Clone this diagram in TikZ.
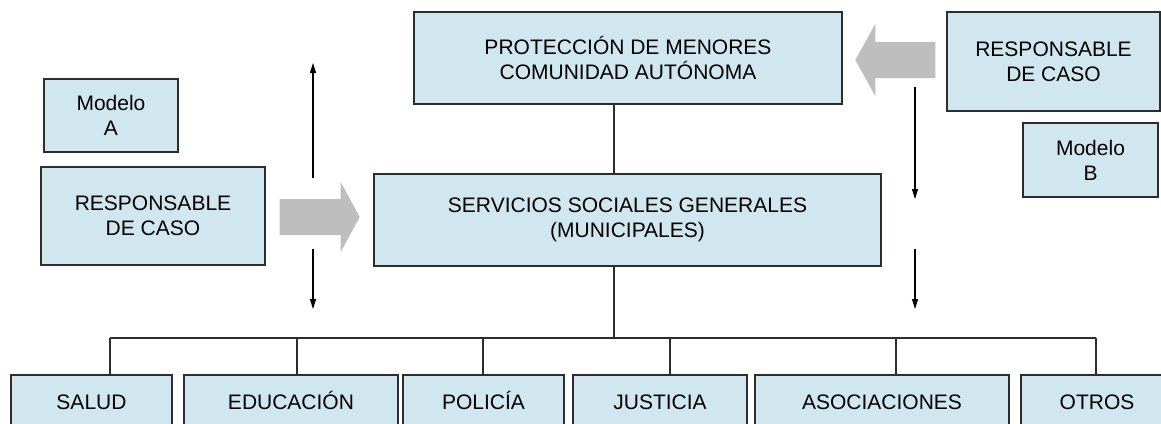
\documentclass[tikz,border=0pt]{standalone}
\usepackage{fontspec}
\setmainfont{Liberation Sans}
\usetikzlibrary{arrows.meta,calc}
\definecolor{boxfill}{RGB}{209,231,239}
\definecolor{boxline}{RGB}{45,45,45}
\definecolor{fatgray}{RGB}{190,190,190}
\begin{document}
\begin{tikzpicture}[x=0.5pt,y=-0.5pt,
  box/.style={draw=boxline, line width=0.7pt, fill=boxfill, align=center, inner sep=0pt,
    font=\fontsize{10.5}{12.5}\selectfont, text=black},
  lowbox/.style={box, minimum height=27pt, text height=7.5pt, text depth=0pt},
  conn/.style={draw=boxline, line width=0.55pt},
  thinarrow/.style={draw=black, line width=0.55pt, -{Triangle[length=5pt,width=3pt]}},
  fat/.style={fill=fatgray}]
\useasboundingbox (0,0) rectangle (1161,423);

% top / middle boxes
\node[box, minimum width=67pt, minimum height=36.5pt] (modA) at (111,115.5) {Modelo\\A};
\node[box, minimum width=112pt, minimum height=49pt] (respA) at (153,216) {RESPONSABLE\\DE CASO};
\node[box, minimum width=214pt, minimum height=46pt] (prot) at (628,58) {PROTECCIÓN DE MENORES\\COMUNIDAD AUTÓNOMA};
\node[box, minimum width=253.5pt, minimum height=46pt] (ssg) at (627.5,220) {SERVICIOS SOCIALES GENERALES\\(MUNICIPALES)};
\node[box, minimum width=106.5pt, minimum height=49.5pt] (respB) at (1053.5,61.5) {RESPONSABLE\\DE CASO};
\node[box, minimum width=67.5pt, minimum height=37pt] (modB) at (1090.5,160) {Modelo\\B};

% bottom boxes
\node[lowbox, minimum width=80.5pt] (salud) at (91.5,402) {SALUD};
\node[lowbox, minimum width=107pt] (educ) at (291,402) {EDUCACIÓN};
\node[lowbox, minimum width=80.5pt] (pol) at (483.5,402) {POLICÍA};
\node[lowbox, minimum width=87pt] (just) at (660,402) {JUSTICIA};
\node[lowbox, minimum width=127pt] (asoc) at (882,402) {ASOCIACIONES};
\node[lowbox, minimum width=76pt] (otros) at (1097,402) {OTROS};

% tree connectors
\coordinate (cx) at (614,338);
\coordinate (d1) at (110,338);
\coordinate (d2) at (297,338);
\coordinate (d3) at (483,338);
\coordinate (d4) at (670,338);
\coordinate (d5) at (896,338);
\coordinate (d6) at (1096,338);
\draw[conn] (prot.south -| cx) -- (ssg.north -| cx);
\draw[conn] (ssg.south -| cx) -- (cx);
\draw[conn] (d1) -- (d6);
\draw[conn] (d1) -- (d1 |- salud.north);
\draw[conn] (d2) -- (d2 |- educ.north);
\draw[conn] (d3) -- (d3 |- pol.north);
\draw[conn] (d4) -- (d4 |- just.north);
\draw[conn] (d5) -- (d5 |- asoc.north);
\draw[conn] (d6) -- (d6 |- otros.north);

% thin arrows
\coordinate (la1) at (313,178);
\coordinate (la2) at (313,63);
\coordinate (la3) at (313,249);
\coordinate (la4) at (313,309);
\coordinate (ra1) at (915,87);
\coordinate (ra2) at (915,199);
\coordinate (ra3) at (915,249);
\coordinate (ra4) at (915,309);
\draw[thinarrow] (la1) -- (la2);
\draw[thinarrow] (la3) -- (la4);
\draw[thinarrow] (ra1) -- (ra2);
\draw[thinarrow] (ra3) -- (ra4);

% fat arrows
\fill[fat] ($(respA.east)+(14,-17)$) -- ++(61,0) -- ++(0,-17) -- ++(19,35) -- ++(-19,35)
  -- ++(0,-17) -- ++(-61,0) -- cycle;
\fill[fat] ($(respB.west)+(-11,-19.5)$) -- ++(-60,0) -- ++(0,-18) -- ++(-20,36) -- ++(20,36)
  -- ++(0,-18) -- ++(60,0) -- cycle;
\end{tikzpicture}
\end{document}
